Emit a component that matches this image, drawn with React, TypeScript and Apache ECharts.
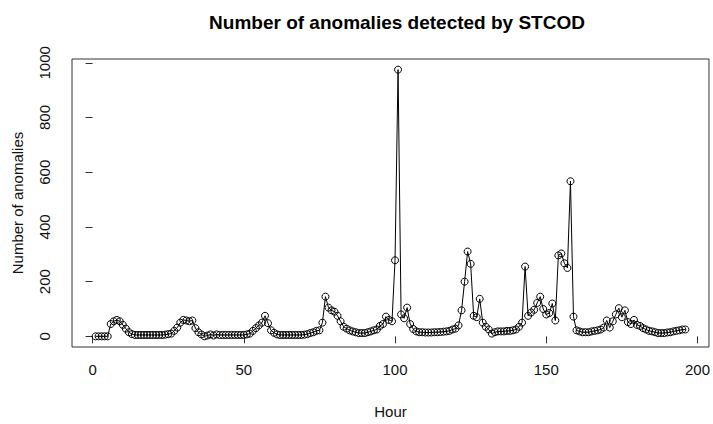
import React, { useEffect, useRef } from "react";
import * as echarts from "echarts";

const hours: number[] = Array.from({ length: 196 }, (_, i) => i + 1);
const anomalies: number[] = [
  0, 0, 0, 0, 0, 45, 55, 60, 55, 42,
  28, 15, 8, 5, 5, 5, 5, 5, 5, 5,
  5, 5, 5, 6, 8, 10, 20, 32, 50, 60,
  58, 55, 58, 30, 15, 7, 0, 3, 7, 3,
  7, 5, 5, 5, 5, 5, 5, 5, 5, 5,
  7, 10, 20, 30, 40, 50, 75, 48, 22, 13,
  7, 5, 5, 5, 5, 5, 5, 5, 5, 6,
  8, 12, 15, 20, 22, 50, 145, 105, 95, 90,
  75, 55, 35, 28, 22, 18, 15, 12, 12, 12,
  15, 18, 22, 25, 38, 45, 72, 60, 55, 278,
  975, 80, 66, 105, 45, 27, 18, 15, 15, 14,
  14, 14, 15, 15, 16, 17, 18, 20, 25, 28,
  40, 95, 200, 310, 265, 75, 70, 137, 50, 35,
  25, 10, 15, 18, 18, 18, 20, 20, 22, 25,
  35, 50, 255, 75, 87, 97, 122, 145, 100, 80,
  85, 120, 58, 296, 303, 267, 250, 567, 72, 22,
  18, 15, 15, 15, 18, 20, 22, 25, 32, 58,
  32, 55, 80, 103, 70, 95, 52, 45, 60, 42,
  38, 30, 25, 20, 18, 15, 12, 12, 12, 14,
  15, 18, 20, 22, 25, 25,
];
const xTicks: number[] = [0, 50, 100, 150, 200];
const yTicks: number[] = [0, 200, 400, 600, 800, 1000];

const FONT = "'Liberation Sans', Arial, sans-serif";

export default function App() {
  const ref = useRef<HTMLDivElement>(null);
  useEffect(() => {
    if (!ref.current) return;
    const chart = echarts.init(ref.current, null, { renderer: "svg" });
    chart.setOption({
      animation: false,
      backgroundColor: "#fff",
      textStyle: { fontFamily: FONT },
      title: {
        text: "Number of anomalies detected by STCOD",
        left: 392,
        textAlign: "center",
        top: 8,
        textStyle: { fontFamily: FONT, fontSize: 19, fontWeight: "bold", color: "#000" },
      },
      grid: {
        left: 72,
        right: 1,
        top: 59,
        bottom: 73,
        show: true,
        borderColor: "#333",
        borderWidth: 1,
        backgroundColor: "transparent",
      },
      xAxis: {
        type: "value",
        min: -6.8,
        max: 203.8,
        name: "Hour",
        nameLocation: "middle",
        nameGap: 57,
        nameTextStyle: { fontFamily: FONT, fontSize: 15, color: "#111" },
        axisLine: { show: false },
        splitLine: { show: false },
        axisTick: {
          show: true,
          length: 7,
          customValues: xTicks,
          lineStyle: { color: "#333" },
        },
        axisLabel: {
          customValues: xTicks,
          margin: 15,
          fontFamily: FONT,
          fontSize: 15,
          color: "#111",
          formatter: (v: number) => String(v),
        },
      },
      yAxis: {
        type: "value",
        min: -39,
        max: 1014,
        name: "Number of anomalies",
        nameLocation: "middle",
        nameGap: 47,
        nameRotate: 90,
        nameTextStyle: { fontFamily: FONT, fontSize: 15, color: "#111" },
        axisLine: { show: false },
        splitLine: { show: false },
        axisTick: {
          show: true,
          length: 7,
          customValues: yTicks,
          lineStyle: { color: "#333" },
        },
        axisLabel: {
          customValues: yTicks,
          rotate: 90,
          margin: 20,
          fontFamily: FONT,
          fontSize: 15,
          color: "#111",
          formatter: (v: number) => String(v),
        },
      },
      series: [
        {
          type: "line",
          data: hours.map((h, i) => [h, anomalies[i]]),
          symbol: "circle",
          symbolSize: 7,
          showAllSymbol: true,
          lineStyle: { color: "#000", width: 1 },
          itemStyle: { color: "rgba(0,0,0,0)", borderColor: "#000", borderWidth: 1 },
          emphasis: { disabled: true },
        },
      ],
    });
    return () => chart.dispose();
  }, []);
  return (
    <div
      ref={ref}
      style={{ position: "fixed", left: 0, top: 0, width: 713, height: 424 }}
    />
  );
}
